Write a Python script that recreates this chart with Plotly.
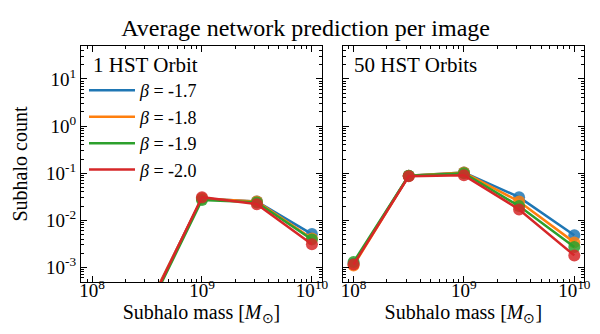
import plotly.graph_objects as go

# subhalo mass bins (M_sun)
masses = [1e8, 3.16e8, 1e9, 3.16e9, 1e10]

betas = ["-1.7", "-1.8", "-1.9", "-2.0"]
colors = ["#1f77b4", "#ff7f0e", "#2ca02c", "#d62728"]

# 1 HST orbit (first two bins are essentially zero)
counts_1orbit = [
    [1e-6, 1.3e-4, 0.029, 0.025, 0.0051],
    [1e-6, 1.3e-4, 0.029, 0.025, 0.0041],
    [1e-6, 1.1e-4, 0.027, 0.024, 0.0039],
    [1e-6, 1.2e-4, 0.031, 0.022, 0.0031],
]

# 50 HST orbits
counts_50orbit = [
    [1.2e-3, 0.088, 0.104, 0.031, 0.0048],
    [1.1e-3, 0.088, 0.104, 0.025, 0.0034],
    [1.3e-3, 0.088, 0.100, 0.020, 0.0027],
    [1.15e-3, 0.086, 0.090, 0.017, 0.0018],
]

FONT = "Liberation Serif, serif"

fig = go.Figure()

for col, data in ((1, counts_1orbit), (2, counts_50orbit)):
    xa = "x" if col == 1 else "x2"
    ya = "y" if col == 1 else "y2"
    for b, c, vals in zip(betas, colors, data):
        fig.add_trace(go.Scatter(
            x=masses, y=vals, mode="lines", xaxis=xa, yaxis=ya,
            line=dict(color=c, width=2.5),
            name="<i>β</i> = " + b, showlegend=(col == 1),
        ))
        fig.add_trace(go.Scatter(
            x=masses, y=vals, mode="markers", xaxis=xa, yaxis=ya,
            marker=dict(color=c, size=12, opacity=0.85),
            showlegend=False,
        ))

xticks = [1e8, 1e9, 1e10]
xtext = ["10<sup>8</sup>", "10<sup>9</sup>", "10<sup>10</sup>"]
yticks = [1e1, 1e0, 1e-1, 1e-2, 1e-3]
ytext = ["10<sup>1</sup>", "10<sup>0</sup>", "10<sup>-1</sup>", "10<sup>-2</sup>", "10<sup>-3</sup>"]

axis_common = dict(
    type="log", showline=True, linecolor="black", linewidth=1.2, mirror="allticks",
    ticks="inside", ticklen=6, tickwidth=1, tickcolor="black", showgrid=False,
    zeroline=False, tickfont=dict(family=FONT, size=19, color="black"),
    minor=dict(ticks="inside", ticklen=3, tickwidth=0.8, tickcolor="black", dtick="D1", showgrid=False),
)

xrange = [7.9, 10.09]
yrange = [-3.31, 1.70]
ydomain = [0.1796, 0.8862]
title_font = dict(family=FONT, size=20, color="black")
xtitle = "Subhalo mass [<i>M</i><sub>⊙</sub>]"

fig.update_layout(
    width=600, height=334,
    margin=dict(l=0, r=0, t=0, b=0),
    plot_bgcolor="white", paper_bgcolor="white",
    font=dict(family=FONT, size=19, color="black"),
    xaxis=dict(domain=[0.12, 0.5267], range=xrange, tickvals=xticks, ticktext=xtext,
               ticklabelstandoff=-9,
               title=dict(text=xtitle, standoff=0, font=title_font), anchor="y",
               **axis_common),
    xaxis2=dict(domain=[0.5617, 0.97], range=xrange, tickvals=xticks, ticktext=xtext,
                ticklabelstandoff=-9,
                title=dict(text=xtitle, standoff=0, font=title_font), anchor="y2",
                **axis_common),
    yaxis=dict(domain=ydomain, range=yrange, tickvals=yticks, ticktext=ytext,
               title=dict(text="Subhalo count", standoff=13, font=title_font), anchor="x",
               **axis_common),
    yaxis2=dict(domain=ydomain, range=yrange, tickvals=yticks, ticktext=[""] * 5,
                anchor="x2", matches="y", **axis_common),
    legend=dict(x=0.125, y=0.808, xanchor="left", yanchor="top", bgcolor="rgba(0,0,0,0)",
                font=dict(family=FONT, size=18), itemwidth=46, tracegroupgap=0),
    title=dict(text="Average network prediction per image", x=0.496, xanchor="center",
               y=0.94, yanchor="middle", font=dict(family=FONT, size=24)),
    annotations=[
        dict(text="1 HST Orbit", xref="paper", yref="paper", x=0.136, y=0.829,
             xanchor="left", yanchor="middle", showarrow=False, font=dict(family=FONT, size=21)),
        dict(text="50 HST Orbits", xref="paper", yref="paper", x=0.578, y=0.829,
             xanchor="left", yanchor="middle", showarrow=False, font=dict(family=FONT, size=21)),
    ],
)

fig.write_html("out.html")
